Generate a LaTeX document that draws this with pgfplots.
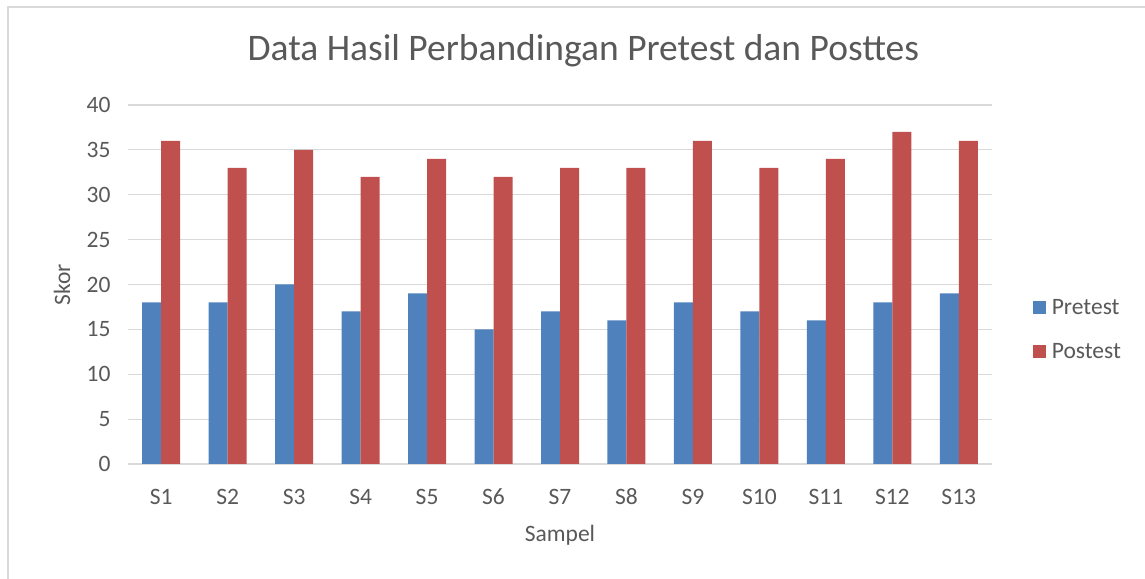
\documentclass[border=0pt]{standalone}
\usepackage{fontspec}
\setmainfont{Carlito}
\usepackage{pgfplots}
\pgfplotsset{compat=1.18}
\definecolor{cblue}{HTML}{4F81BD}
\definecolor{cred}{HTML}{C0504D}
\definecolor{ctext}{HTML}{595959}
\definecolor{cgrid}{HTML}{D9D9D9}
\begin{document}
\begin{tikzpicture}[x=1bp,y=1bp]
\path[use as bounding box] (0,0) rectangle (1145,579);
\draw[cgrid, line width=1.2bp] (8,0) -- (8,572) -- (1145,572);
\begin{axis}[
  at={(128bp,115bp)}, anchor=south west,
  scale only axis, width=864bp, height=359bp,
  xmin=-0.5, xmax=12.5, ymin=0, ymax=40,
  ybar=0pt, bar width=19bp,
  xtick={0,...,12},
  xticklabels={S1,S2,S3,S4,S5,S6,S7,S8,S9,S10,S11,S12,S13},
  ytick={0,5,...,40},
  ymajorgrids, grid style={cgrid, line width=1.2bp},
  axis line style={draw=none},
  major tick length=0pt,
  /pgf/number format/assume math mode=true,
  tick label style={font=\fontsize{23.5bp}{27bp}\selectfont, text=ctext},
  yticklabel style={xshift=-14bp},
  xticklabel style={anchor=base, yshift=-41bp},
  ylabel={Skor}, xlabel={Sampel},
  label style={font=\fontsize{23.5bp}{27bp}\selectfont, text=ctext},
  ylabel style={at={(axis description cs:0,0.5)}, anchor=center, yshift=66bp},
  xlabel style={at={(axis description cs:0.5,0)}, anchor=center, yshift=-71bp},
  title={Data Hasil Perbandingan Pretest dan Posttes},
  title style={font=\fontsize{37.5bp}{42bp}\selectfont, text=ctext, at={(axis description cs:0.527,1)}, anchor=center, yshift=48bp},
  legend style={draw=none, at={(axis description cs:1.047,0.3747)}, anchor=west,
    font=\fontsize{23.5bp}{27bp}\selectfont, text=ctext, row sep=23bp, inner sep=0pt,
    nodes={inner xsep=6bp}},
  legend cell align=left,
  legend image code/.code={\fill[#1] (0bp,-6.5bp) rectangle (13bp,6.5bp);},
  clip=false,
]
\addplot[fill=cblue, draw=none] coordinates {(0,18) (1,18) (2,20) (3,17) (4,19) (5,15) (6,17) (7,16) (8,18) (9,17) (10,16) (11,18) (12,19)};
\addplot[fill=cred, draw=none] coordinates {(0,36) (1,33) (2,35) (3,32) (4,34) (5,32) (6,33) (7,33) (8,36) (9,33) (10,34) (11,37) (12,36)};
\legend{Pretest,Postest}
\end{axis}
\end{tikzpicture}
\end{document}
